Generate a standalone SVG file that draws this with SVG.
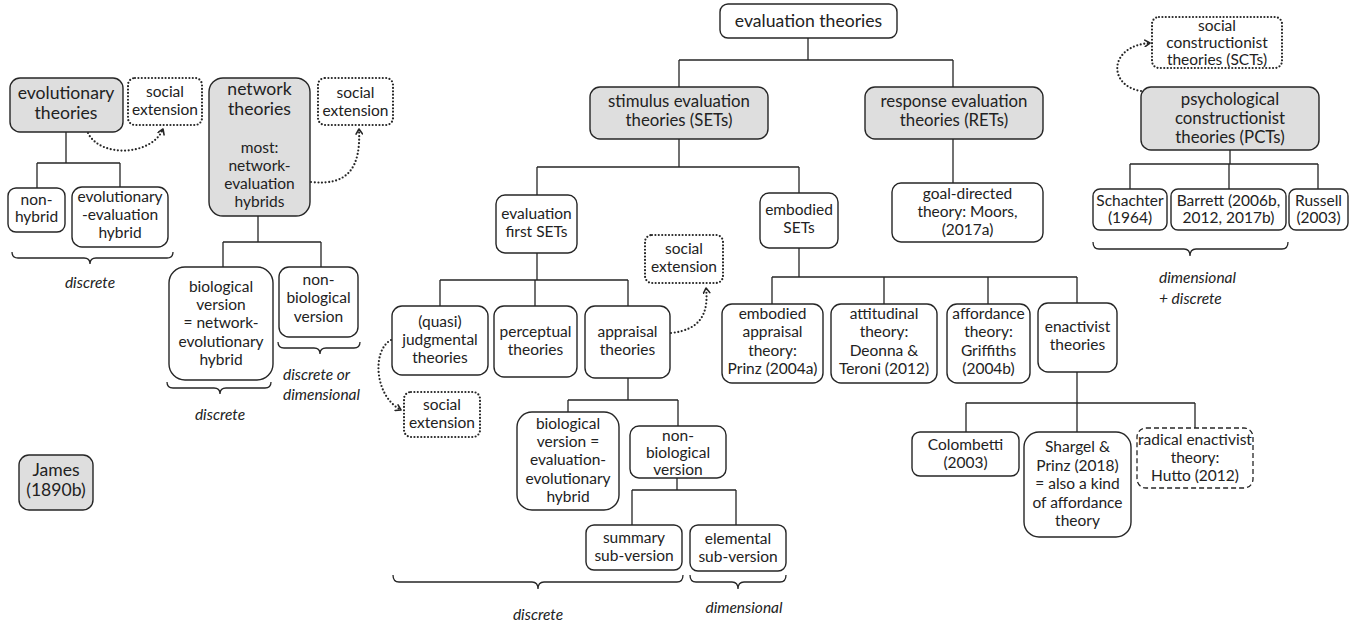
<svg xmlns="http://www.w3.org/2000/svg" width="1353" height="626" viewBox="0 0 1353 626">
  <defs>
    <marker id="chev" viewBox="0 0 8 8" refX="6" refY="4" markerWidth="8" markerHeight="8" markerUnits="userSpaceOnUse" orient="auto">
      <path d="M1,0.8 L6,4 L1,7.2" fill="none" stroke="#262626" stroke-width="1.6" stroke-linecap="round" stroke-linejoin="round"/>
    </marker>
  </defs>
  <style>
    text { font-family: Lato, "Open Sans", "Liberation Sans", sans-serif; fill: #222222; text-anchor: middle; font-size: 15.5px; }
    .big { font-size: 16.8px; }
    .huge { font-size: 17.6px; }
    .it { font-style: italic; font-size: 15.5px; }
    .lft { text-anchor: start; }
    .box { fill: #ffffff; stroke: #262626; stroke-width: 1.4; }
    .gray { fill: #dedede; stroke: #262626; stroke-width: 1.4; }
    .dot { fill: #ffffff; stroke: #262626; stroke-width: 2.2; stroke-dasharray: 0 3.4; stroke-linecap: round; }
    .dash { fill: #ffffff; stroke: #262626; stroke-width: 1.3; stroke-dasharray: 5 3; }
    .wire { fill: none; stroke: #262626; stroke-width: 1.3; }
    .link { fill: none; stroke: #262626; stroke-width: 2.2; stroke-dasharray: 0 3.6; stroke-linecap: round; }
    .brace { fill: none; stroke: #262626; stroke-width: 1.3; }
  </style>
  <rect width="1353" height="626" fill="#ffffff"/>

  <!-- tree connectors, braces and dotted links -->
  <g id="connectors">
    <!-- evolutionary -->
    <path class="wire" d="M66,132 V163 M37,163 H120 M37,163 V188 M120,163 V187"/>
    <!-- network -->
    <path class="wire" d="M258,216 V242 M223,242 H321 M223,242 V267 M321,242 V267"/>
    <!-- evaluation theories -->
    <path class="wire" d="M808,38 V60 M679,60 H953 M679,60 V87 M953,60 V87"/>
    <path class="wire" d="M679,139 V167 M537,167 H799 M537,167 V195 M799,167 V193"/>
    <path class="wire" d="M953,139 V183"/>
    <path class="wire" d="M537,253 V280 M440,280 H628 M440,280 V306 M535,280 V306 M628,280 V306"/>
    <path class="wire" d="M628,378 V400 M568,400 H678 M568,400 V412 M678,400 V426"/>
    <path class="wire" d="M677,478 V490 M632,490 H736 M632,490 V525 M736,490 V525"/>
    <path class="wire" d="M799,248 V277 M772,277 H1077 M772,277 V304 M884,277 V304 M988,277 V304 M1077,277 V303"/>
    <path class="wire" d="M1077,372 V403 M966,403 H1195 M966,403 V432 M1077,403 V432 M1195,403 V428"/>
    <!-- psychological constructionist -->
    <path class="wire" d="M1230,150 V164 M1130,164 H1318 M1130,164 V189 M1229,164 V189 M1318,164 V189"/>

    <!-- braces -->
    <path class="brace" d="M12,252 Q12,258 18,258 H84 Q90,258 90,264 Q90,258 96,258 H167 Q173,258 173,252"/>
    <path class="brace" d="M167,382 Q167,388 173,388 H214 Q220,388 220,394 Q220,388 226,388 H265 Q271,388 271,382"/>
    <path class="brace" d="M278,342 Q278,348 284,348 H314 Q320,348 320,354 Q320,348 326,348 H354 Q360,348 360,342"/>
    <path class="brace" d="M393,575 Q393,582 399,582 H532 Q538,582 538,589 Q538,582 544,582 H677 Q683,582 683,575"/>
    <path class="brace" d="M690,575 Q690,582 696,582 H732 Q738,582 738,589 Q738,582 744,582 H780 Q786,582 786,575"/>
    <path class="brace" d="M1093,242 Q1093,249 1099,249 H1184 Q1190,249 1190,256 Q1190,249 1196,249 H1282 Q1288,249 1288,242"/>

    <!-- dotted links to social extensions -->
    <path class="link" marker-end="url(#chev)" d="M88,133 C100,158 152,156 163,129"/>
    <path class="link" marker-end="url(#chev)" d="M311,182 C348,186 361,168 359,129"/>
    <path class="link" marker-end="url(#chev)" d="M671,333 C700,330 709,314 706,288"/>
    <path class="link" marker-end="url(#chev)" d="M391,340 C372,350 374,396 401,410"/>
    <path class="link" marker-end="url(#chev)" d="M1141,91 C1108,86 1108,46 1150,43"/>
  </g>

  <!-- left cluster -->
  <g id="evolutionary">
    <rect class="gray" x="10" y="78" width="113" height="54" rx="10"/>
    <text class="huge"><tspan x="66" y="98.5">evolutionary</tspan><tspan x="66" y="118.5">theories</tspan></text>
  </g>
  <g id="evolutionary-social">
    <rect class="dot" x="128" y="78" width="74" height="47" rx="7"/>
    <text><tspan x="165" y="97">social</tspan><tspan x="165" y="115">extension</tspan></text>
  </g>
  <g id="non-hybrid">
    <rect class="box" x="8" y="188" width="57" height="44" rx="8"/>
    <text><tspan x="36.5" y="205">non-</tspan><tspan x="36.5" y="222">hybrid</tspan></text>
  </g>
  <g id="evolutionary-evaluation-hybrid">
    <rect class="box" x="72" y="187" width="96" height="60" rx="10"/>
    <text><tspan x="120" y="202">evolutionary</tspan><tspan x="120" y="220">-evaluation</tspan><tspan x="120" y="238">hybrid</tspan></text>
  </g>
  <g id="discrete-1">
    <text class="it" x="90" y="288">discrete</text>
  </g>

  <g id="network">
    <rect class="gray" x="209" y="78" width="101" height="138" rx="14"/>
    <text class="huge"><tspan x="259.5" y="95">network</tspan><tspan x="259.5" y="115">theories</tspan></text>
    <text><tspan x="259.5" y="153">most:</tspan><tspan x="259.5" y="171">network-</tspan><tspan x="259.5" y="189">evaluation</tspan><tspan x="259.5" y="207">hybrids</tspan></text>
  </g>
  <g id="network-social">
    <rect class="dot" x="318" y="78" width="75" height="47" rx="7"/>
    <text><tspan x="355.5" y="98">social</tspan><tspan x="355.5" y="116">extension</tspan></text>
  </g>
  <g id="network-biological">
    <rect class="box" x="169" y="267" width="104" height="113" rx="16"/>
    <text><tspan x="221" y="292">biological</tspan><tspan x="221" y="310">version</tspan><tspan x="221" y="328">= network-</tspan><tspan x="221" y="347">evolutionary</tspan><tspan x="221" y="365">hybrid</tspan></text>
  </g>
  <g id="network-nonbiological">
    <rect class="box" x="279" y="267" width="79" height="70" rx="10"/>
    <text><tspan x="318.5" y="285">non-</tspan><tspan x="318.5" y="303">biological</tspan><tspan x="318.5" y="322">version</tspan></text>
  </g>
  <g id="network-labels">
    <text class="it lft"><tspan x="283" y="380">discrete or</tspan><tspan x="283" y="400">dimensional</tspan></text>
    <text class="it" x="220" y="420">discrete</text>
  </g>

  <g id="james">
    <rect class="gray" x="19" y="455" width="74" height="55" rx="10"/>
    <text class="huge"><tspan x="56" y="475.5">James</tspan><tspan x="56" y="495.5">(1890b)</tspan></text>
  </g>

  <!-- evaluation theories tree -->
  <g id="evaluation-theories">
    <rect class="box" x="720" y="4" width="177" height="34" rx="8"/>
    <text class="huge" x="808.5" y="27">evaluation theories</text>
  </g>
  <g id="sets">
    <rect class="gray" x="590" y="87" width="178" height="52" rx="10"/>
    <text class="big"><tspan x="679" y="107">stimulus evaluation</tspan><tspan x="679" y="126">theories (SETs)</tspan></text>
  </g>
  <g id="rets">
    <rect class="gray" x="865" y="87" width="178" height="52" rx="10"/>
    <text class="big"><tspan x="954" y="107">response evaluation</tspan><tspan x="954" y="126">theories (RETs)</tspan></text>
  </g>
  <g id="goal-directed">
    <rect class="box" x="892" y="183" width="151" height="59" rx="9"/>
    <text><tspan x="967.5" y="199">goal-directed</tspan><tspan x="967.5" y="217">theory: Moors,</tspan><tspan x="967.5" y="235">(2017a)</tspan></text>
  </g>
  <g id="evaluation-first">
    <rect class="box" x="496" y="195" width="81" height="58" rx="9"/>
    <text><tspan x="536.5" y="219">evaluation</tspan><tspan x="536.5" y="237">first SETs</tspan></text>
  </g>
  <g id="embodied-sets">
    <rect class="box" x="760" y="193" width="78" height="55" rx="9"/>
    <text><tspan x="799" y="215">embodied</tspan><tspan x="799" y="233">SETs</tspan></text>
  </g>
  <g id="judgmental">
    <rect class="box" x="392" y="306" width="96" height="69" rx="10"/>
    <text><tspan x="440" y="327">(quasi)</tspan><tspan x="440" y="345">judgmental</tspan><tspan x="440" y="363">theories</tspan></text>
  </g>
  <g id="perceptual">
    <rect class="box" x="494" y="306" width="83" height="71" rx="10"/>
    <text><tspan x="535.5" y="337">perceptual</tspan><tspan x="535.5" y="355">theories</tspan></text>
  </g>
  <g id="appraisal">
    <rect class="box" x="585" y="306" width="85" height="72" rx="10"/>
    <text><tspan x="627.5" y="337">appraisal</tspan><tspan x="627.5" y="355">theories</tspan></text>
  </g>
  <g id="appraisal-social">
    <rect class="dot" x="645" y="235" width="78" height="48" rx="7"/>
    <text><tspan x="684" y="254">social</tspan><tspan x="684" y="272">extension</tspan></text>
  </g>
  <g id="judgmental-social">
    <rect class="dot" x="404" y="392" width="76" height="45" rx="7"/>
    <text><tspan x="442" y="410">social</tspan><tspan x="442" y="428">extension</tspan></text>
  </g>
  <g id="appraisal-biological">
    <rect class="box" x="517" y="412" width="102" height="98" rx="15"/>
    <text><tspan x="568" y="429">biological</tspan><tspan x="568" y="447">version =</tspan><tspan x="568" y="465">evaluation-</tspan><tspan x="568" y="484">evolutionary</tspan><tspan x="568" y="502">hybrid</tspan></text>
  </g>
  <g id="appraisal-nonbiological">
    <rect class="box" x="630" y="426" width="96" height="52" rx="9"/>
    <text><tspan x="678" y="441">non-</tspan><tspan x="678" y="458">biological</tspan><tspan x="678" y="475">version</tspan></text>
  </g>
  <g id="summary">
    <rect class="box" x="586" y="525" width="96" height="45" rx="8"/>
    <text><tspan x="634" y="543">summary</tspan><tspan x="634" y="561">sub-version</tspan></text>
  </g>
  <g id="elemental">
    <rect class="box" x="690" y="525" width="96" height="46" rx="8"/>
    <text><tspan x="738" y="544">elemental</tspan><tspan x="738" y="562">sub-version</tspan></text>
  </g>
  <g id="appraisal-labels">
    <text class="it" x="538" y="620">discrete</text>
    <text class="it" x="744" y="613">dimensional</text>
  </g>

  <g id="embodied-appraisal">
    <rect class="box" x="722" y="304" width="101" height="79" rx="10"/>
    <text><tspan x="772.5" y="319">embodied</tspan><tspan x="772.5" y="337">appraisal</tspan><tspan x="772.5" y="356">theory:</tspan><tspan x="772.5" y="374">Prinz (2004a)</tspan></text>
  </g>
  <g id="attitudinal">
    <rect class="box" x="831" y="304" width="106" height="79" rx="10"/>
    <text><tspan x="884" y="319">attitudinal</tspan><tspan x="884" y="337">theory:</tspan><tspan x="884" y="356">Deonna &amp;</tspan><tspan x="884" y="374">Teroni (2012)</tspan></text>
  </g>
  <g id="affordance">
    <rect class="box" x="947" y="304" width="83" height="79" rx="10"/>
    <text><tspan x="988.5" y="319">affordance</tspan><tspan x="988.5" y="337">theory:</tspan><tspan x="988.5" y="356">Griffiths</tspan><tspan x="988.5" y="374">(2004b)</tspan></text>
  </g>
  <g id="enactivist">
    <rect class="box" x="1038" y="303" width="79" height="69" rx="10"/>
    <text><tspan x="1077.5" y="332">enactivist</tspan><tspan x="1077.5" y="350">theories</tspan></text>
  </g>
  <g id="colombetti">
    <rect class="box" x="912" y="432" width="107" height="44" rx="8"/>
    <text><tspan x="965.5" y="450">Colombetti</tspan><tspan x="965.5" y="468">(2003)</tspan></text>
  </g>
  <g id="shargel-prinz">
    <rect class="box" x="1024" y="432" width="107" height="105" rx="15"/>
    <text><tspan x="1077.5" y="452">Shargel &amp;</tspan><tspan x="1077.5" y="471">Prinz (2018)</tspan><tspan x="1077.5" y="489">= also a kind</tspan><tspan x="1077.5" y="508">of affordance</tspan><tspan x="1077.5" y="526">theory</tspan></text>
  </g>
  <g id="radical-enactivist">
    <rect class="dash" x="1137" y="428" width="116" height="60" rx="9"/>
    <text><tspan x="1195" y="445">radical enactivist</tspan><tspan x="1195" y="463">theory:</tspan><tspan x="1195" y="481">Hutto (2012)</tspan></text>
  </g>

  <!-- constructionist cluster -->
  <g id="scts">
    <rect class="dot" x="1152" y="17" width="130" height="51" rx="7"/>
    <text><tspan x="1217" y="31">social</tspan><tspan x="1217" y="48">constructionist</tspan><tspan x="1217" y="65">theories (SCTs)</tspan></text>
  </g>
  <g id="pcts">
    <rect class="gray" x="1141" y="87" width="178" height="63" rx="10"/>
    <text class="big"><tspan x="1230" y="105">psychological</tspan><tspan x="1230" y="124">constructionist</tspan><tspan x="1230" y="143">theories (PCTs)</tspan></text>
  </g>
  <g id="schachter">
    <rect class="box" x="1093" y="189" width="74" height="41" rx="7"/>
    <text><tspan x="1130" y="206">Schachter</tspan><tspan x="1130" y="223">(1964)</tspan></text>
  </g>
  <g id="barrett">
    <rect class="box" x="1171" y="189" width="115" height="41" rx="7"/>
    <text><tspan x="1228.5" y="206">Barrett (2006b,</tspan><tspan x="1228.5" y="223">2012, 2017b)</tspan></text>
  </g>
  <g id="russell">
    <rect class="box" x="1289" y="189" width="59" height="41" rx="7"/>
    <text><tspan x="1318.5" y="206">Russell</tspan><tspan x="1318.5" y="223">(2003)</tspan></text>
  </g>
  <g id="pcts-label">
    <text class="it lft"><tspan x="1159" y="283">dimensional</tspan><tspan x="1159" y="304">+ discrete</tspan></text>
  </g>
</svg>
